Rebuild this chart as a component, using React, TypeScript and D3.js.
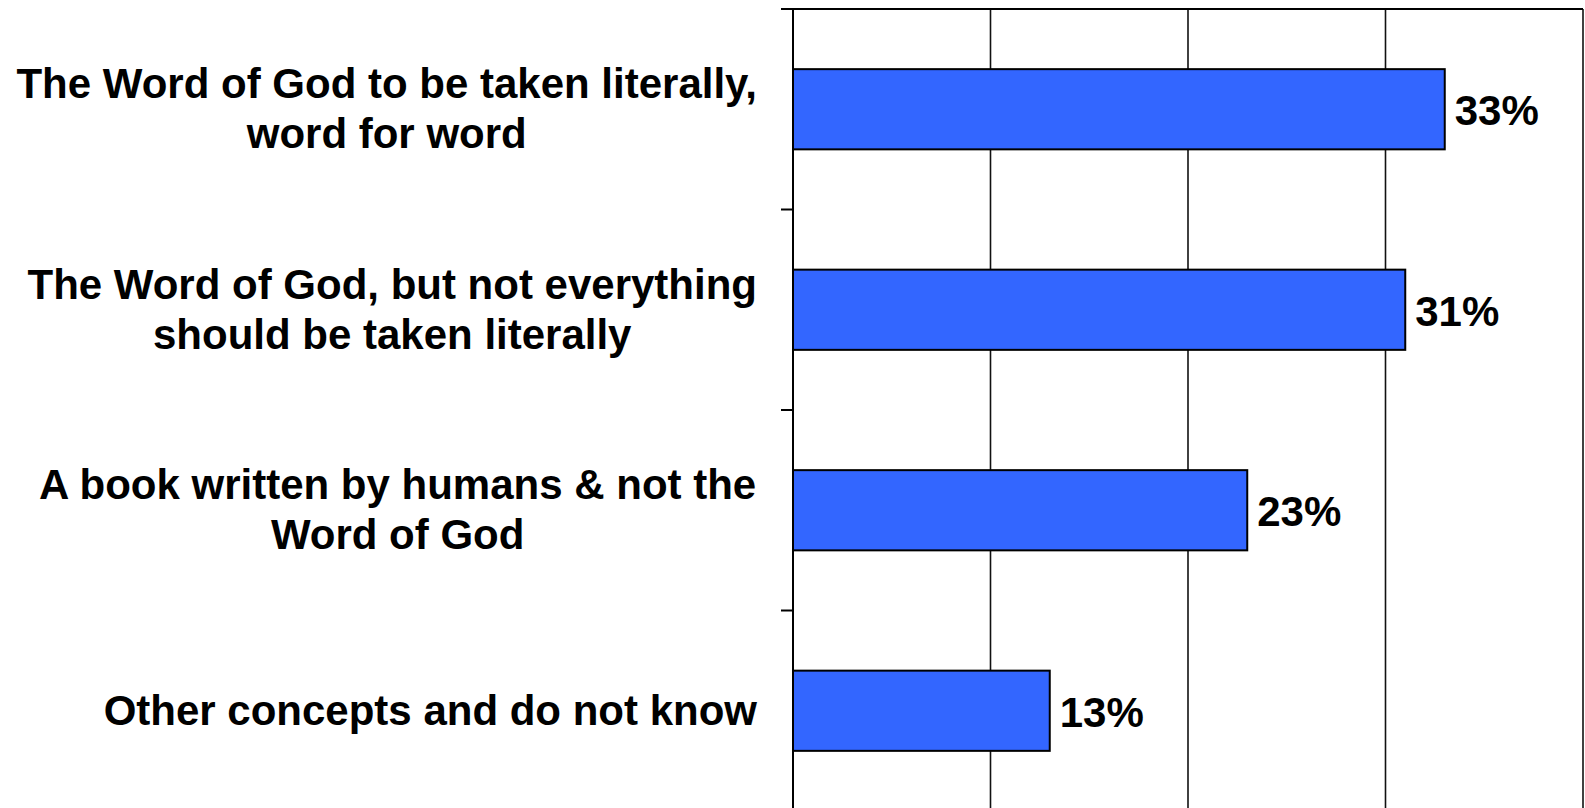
import * as d3 from 'd3'
import React from 'react'

const categories = [
  ['The Word of God to be taken literally,', 'word for word'],
  ['The Word of God, but not everything', 'should be taken literally'],
  ['A book written by humans & not the', 'Word of God'],
  ['Other concepts and do not know'],
]
const values = [33, 31, 23, 13]
const xTicks = [0, 10, 20, 30, 40]

const W = 1585, H = 808
const FS = 42
const FONT = `bold ${FS}px 'Liberation Sans', Arial, sans-serif`

const measure = (() => {
  const ctx = document.createElement('canvas').getContext('2d')!
  ctx.font = FONT
  return (s: string) => ctx.measureText(s).width
})()

export default function App() {
  const
    x = d3.scaleLinear().domain([0, 40]).range([793, 1583]),
    keys = categories.map((_, i) => String(i)),
    y = d3.scaleBand().domain(keys).range([9, 811]).paddingInner(0.6).paddingOuter(0.3),
    step = y.step(),
    bandTop = (i: number) => y(keys[i])! - y.paddingOuter() * step,
    labelRight = 757,
    lineGap = 50

  return (
    <div style={{ position: 'fixed', left: 0, top: 0, background: '#fff' }}>
      <svg width={W} height={H} style={{ display: 'block', fontFamily: "'Liberation Sans', Arial, sans-serif" }}>
        {xTicks.slice(1).map(t => (
          <line key={t} x1={x(t)} x2={x(t)} y1={9} y2={H + 10} stroke='#111' strokeWidth={1.6} />
        ))}
        <line x1={781} x2={x(40)} y1={9} y2={9} stroke='#000' strokeWidth={2} />
        {d3.range(categories.length + 1).map(i => (
          <line key={i} x1={781} x2={793} y1={9 + i * step} y2={9 + i * step} stroke='#000' strokeWidth={2} />
        ))}
        {values.map((v, i) => (
          <rect key={i} x={x(0)} y={y(keys[i])} width={x(v) - x(0)} height={y.bandwidth()}
            fill='#3366FF' stroke='#000' strokeWidth={2} />
        ))}
        <line x1={x(0)} x2={x(0)} y1={9} y2={H + 10} stroke='#000' strokeWidth={2} />
        {values.map((v, i) => {
          const cy = y(keys[i])! + y.bandwidth() / 2
          return (
            <text key={i} x={x(v) + 10} y={cy + 16} fontSize={FS} fontWeight='bold' fill='#000'>{v}%</text>
          )
        })}
        {categories.map((lines, i) => {
          const
            cy = bandTop(i) + step / 2,
            widest = d3.max(lines, measure)!,
            cx = labelRight - widest / 2,
            first = cy - (lines.length - 1) * lineGap / 2 + 14
          return (
            <text key={i} fontSize={FS} fontWeight='bold' fill='#000' textAnchor='middle'>
              {lines.map((l, j) => <tspan key={j} x={cx} y={first + j * lineGap}>{l}</tspan>)}
            </text>
          )
        })}
      </svg>
    </div>
  )
}
